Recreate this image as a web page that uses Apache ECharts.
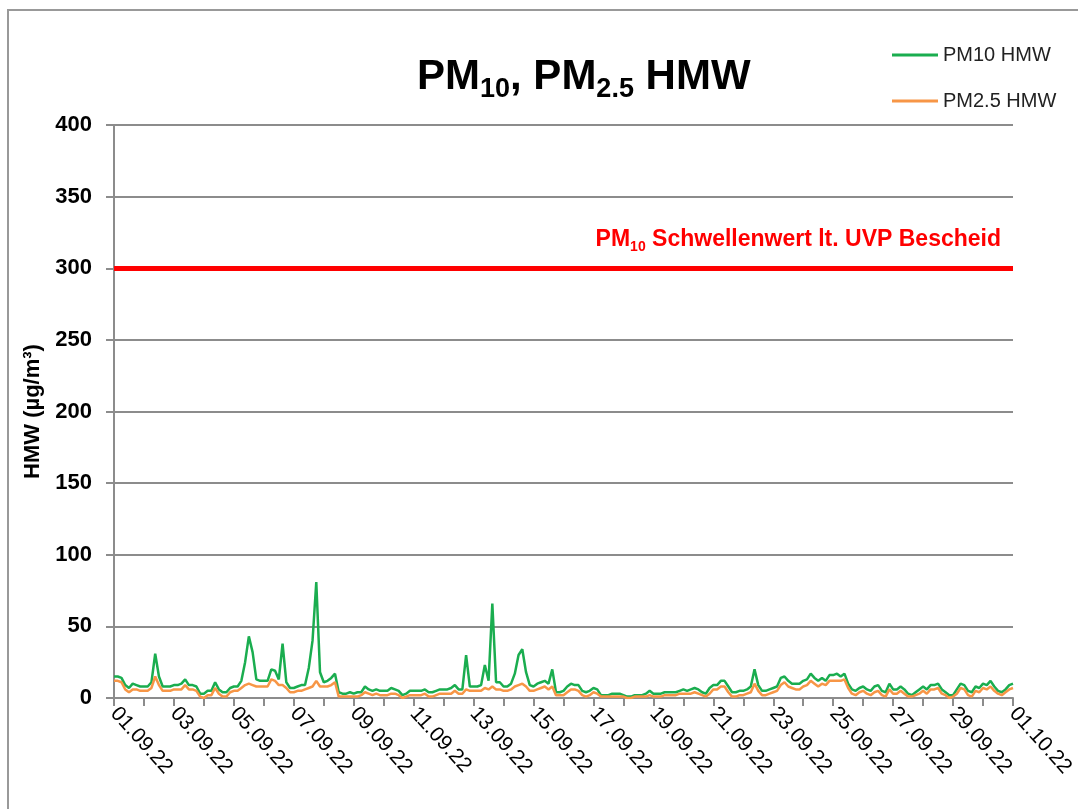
<!DOCTYPE html>
<html>
<head>
<meta charset="utf-8">
<script src="https://cdn.jsdelivr.net/npm/echarts@6/dist/echarts.min.js"></script>
<style>
html,body{margin:0;padding:0;background:#fff}
#chart{width:1078px;height:809px}
</style>
</head>
<body>
<div id="chart"></div>
<script>
// ========= data =========
const days = ['01.09.22','02.09.22','03.09.22','04.09.22','05.09.22','06.09.22','07.09.22','08.09.22',
  '09.09.22','10.09.22','11.09.22','12.09.22','13.09.22','14.09.22','15.09.22','16.09.22','17.09.22',
  '18.09.22','19.09.22','20.09.22','21.09.22','22.09.22','23.09.22','24.09.22','25.09.22','26.09.22',
  '27.09.22','28.09.22','29.09.22','30.09.22','01.10.22'];
const hours = ['00:00','03:00','06:00','09:00','12:00','15:00','18:00','21:00'];

// PM10 HMW, µg/m³ (read every 3 h)
const pm10 = [
  15,15,14,9,7,10,9,8,
  8,8,11,31,15,8,8,8,
  9,9,10,13,9,9,8,3,
  3,5,5,11,6,4,4,7,
  8,8,12,25,43,32,13,12,
  12,12,20,19,13,38,11,7,
  7,8,9,9,21,40,81,18,
  11,12,14,17,4,3,3,4,
  3,4,4,8,6,5,6,5,
  5,5,7,6,5,2,3,5,
  5,5,5,6,4,4,5,6,
  6,6,7,9,6,6,30,8,
  8,8,9,23,12,66,11,11,
  8,8,10,17,30,34,18,9,
  8,10,11,12,10,20,4,4,
  5,8,10,9,9,5,4,5,
  7,6,2,2,2,3,3,3,
  2,1,1,2,2,2,3,5,
  3,3,3,4,4,4,4,5,
  6,5,6,7,6,4,3,7,
  9,9,12,12,8,4,4,5,
  5,6,8,20,9,5,5,6,
  7,8,14,15,12,10,10,10,
  12,13,17,14,12,14,12,16,
  16,17,15,17,10,6,5,7,
  8,6,5,8,9,5,4,10,
  6,6,8,6,3,2,4,6,
  8,6,9,9,10,6,4,2,
  2,6,10,9,5,4,8,7,
  10,9,12,8,5,4,6,9,
  10
];

// PM2.5 HMW, µg/m³
const pm25 = [
  12,12,11,6,4,6,6,5,
  5,5,7,15,9,5,5,5,
  6,6,6,9,6,6,5,1,
  0,2,2,7,3,1,1,4,
  5,5,7,9,10,9,8,8,
  8,8,13,12,9,9,7,4,
  4,5,5,6,7,8,12,8,
  8,8,9,11,1,1,1,1,
  1,1,2,4,3,2,3,2,
  2,2,3,3,2,0,1,2,
  2,2,2,3,1,1,2,3,
  3,3,3,5,3,3,6,5,
  5,5,5,7,6,8,6,6,
  5,5,6,8,9,10,8,5,
  5,6,7,8,6,8,2,2,
  2,4,6,6,5,2,1,2,
  4,3,1,1,1,1,1,1,
  1,0,0,1,1,1,1,2,
  1,1,1,2,2,2,2,3,
  3,3,3,4,3,2,1,3,
  6,6,8,8,4,1,1,2,
  2,3,4,10,5,2,2,3,
  4,5,9,11,8,7,6,6,
  8,9,12,10,8,10,9,12,
  12,12,12,13,7,3,2,4,
  5,3,2,4,5,2,1,6,
  3,3,5,3,1,1,2,3,
  5,3,6,6,7,3,2,0,
  1,3,7,6,2,1,5,4,
  7,6,8,5,3,2,4,6,
  7
];

const threshold = 300;
const yMax = 400;
const yStep = 50;

// ========= categories =========
const times = [];
days.forEach((d, i) => {
  if (i < days.length - 1) hours.forEach(h => times.push(d + ' ' + h));
  else times.push(d + ' 00:00');
});

const FONT = 'Liberation Sans, Arial, sans-serif';
const GRAY = '#8c8c8c';

const chart = echarts.init(document.getElementById('chart'));

chart.setOption({
  animation: false,
  backgroundColor: '#fff',
  graphic: [{
    type: 'rect',
    shape: {x: 8, y: 10, width: 1090, height: 820},
    style: {fill: 'none', stroke: '#999', lineWidth: 2},
    silent: true
  }],
  title: {
    text: '{a|PM}{b|10}{a|, PM}{b|2.5}{a| HMW}',
    left: 412,
    top: 52,
    textStyle: {
      fontFamily: FONT,
      rich: {
        a: {fontSize: 42, fontWeight: 'bold', color: '#000', fontFamily: FONT,
            lineHeight: 46, verticalAlign: 'bottom', padding: [0, 0, 5, 0]},
        b: {fontSize: 27, fontWeight: 'bold', color: '#000', fontFamily: FONT,
            lineHeight: 30, verticalAlign: 'bottom'}
      }
    }
  },
  legend: {
    orient: 'vertical',
    left: 887,
    top: 40,
    icon: 'rect',
    itemWidth: 46,
    itemHeight: 3,
    itemGap: 26,
    textStyle: {fontFamily: FONT, fontSize: 20, color: '#222', lineHeight: 20},
    data: ['PM10 HMW', 'PM2.5 HMW']
  },
  grid: {left: 114, right: 65, top: 125, bottom: 111, containLabel: false},
  xAxis: {
    type: 'category',
    data: times,
    boundaryGap: false,
    axisLine: {lineStyle: {color: GRAY, width: 2}},
    axisTick: {show: true, interval: hours.length - 1, length: 8, lineStyle: {color: GRAY, width: 2}},
    axisLabel: {
      interval: hours.length * 2 - 1,
      rotate: -48,
      margin: 12,
      fontFamily: FONT,
      fontSize: 21,
      color: '#000',
      formatter: v => v.split(' ')[0]
    },
    splitLine: {show: false}
  },
  yAxis: {
    type: 'value',
    min: 0,
    max: yMax,
    interval: yStep,
    name: 'HMW (µg/m³)',
    nameLocation: 'middle',
    nameRotate: 90,
    nameGap: 64,
    nameTextStyle: {fontFamily: FONT, fontSize: 22, fontWeight: 'bold', color: '#000'},
    axisLine: {show: true, lineStyle: {color: GRAY, width: 2}},
    axisTick: {show: true, length: 8, lineStyle: {color: GRAY, width: 2}},
    axisLabel: {fontFamily: FONT, fontSize: 22, fontWeight: 'bold', color: '#000', margin: 22},
    splitLine: {show: true, lineStyle: {color: GRAY, width: 2}}
  },
  series: [
    {
      name: 'PM10 HMW',
      type: 'line',
      data: pm10,
      symbol: 'none',
      lineStyle: {color: '#1aad4f', width: 2.5},
      itemStyle: {color: '#1aad4f'},
      z: 3,
      markLine: {
        silent: true,
        symbol: 'none',
        lineStyle: {color: '#ff0000', width: 5, type: 'solid'},
        label: {
          show: true,
          position: 'insideEndTop',
          distance: [12, 14],
          formatter: '{r|PM}{s|10}{r| Schwellenwert lt. UVP Bescheid}',
          rich: {
            r: {fontFamily: FONT, fontSize: 23, fontWeight: 'bold', color: '#ff0000',
                lineHeight: 26, verticalAlign: 'bottom', padding: [0, 0, 3, 0]},
            s: {fontFamily: FONT, fontSize: 14, fontWeight: 'bold', color: '#ff0000',
                lineHeight: 16, verticalAlign: 'bottom'}
          }
        },
        data: [{yAxis: threshold}]
      }
    },
    {
      name: 'PM2.5 HMW',
      type: 'line',
      data: pm25,
      symbol: 'none',
      lineStyle: {color: '#f79646', width: 2.5},
      itemStyle: {color: '#f79646'},
      z: 4
    }
  ]
});
</script>
</body>
</html>
